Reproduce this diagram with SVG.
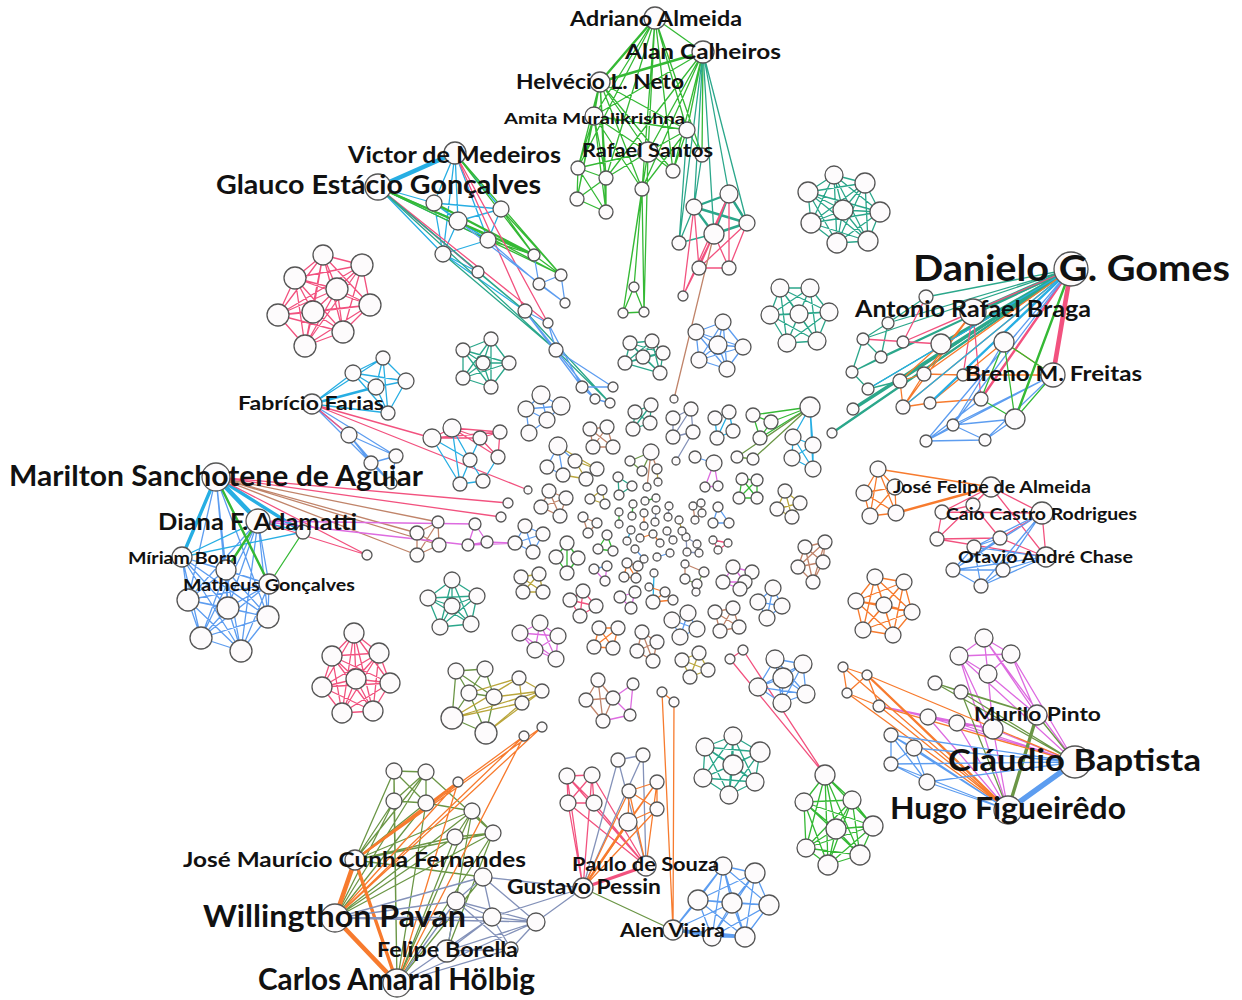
<svg xmlns="http://www.w3.org/2000/svg" width="1242" height="1000" viewBox="0 0 1242 1000">
<style>
.n{fill:#fdfbfc;stroke:#555;stroke-width:1.3}
.e{fill:none;stroke-width:1.3;stroke-linecap:round;stroke-linejoin:round}
.g{stroke:#35b935}
.t{stroke:#2ba78b}
.p{stroke:#f2527f}
.b{stroke:#5d9df0}
.c{stroke:#27aee3}
.o{stroke:#f77b2e}
.w{stroke:#c0846a}
.m{stroke:#dd6be0}
.y{stroke:#baa63c}
.v{stroke:#6b9646}
.s{stroke:#8492b9}
.k2{stroke-width:2.4}
.k3{stroke-width:3.4}
.k4{stroke-width:4.6}
.lab{font-family:Lato,"Liberation Sans",sans-serif;font-weight:700;fill:#111}
</style>
<rect width="1242" height="1000" fill="#fff"/>
<g id="connectors">
<!-- top group around Adriano Almeida -->
<path class="e g" d="M655 18 703 52M655 18 594 116M655 18 687 130M655 18 648 152M655 18 702 155M655 18 673 171M655 18 578 168M655 18 606 178M655 18 642 189M703 52 594 116M703 52 687 130M703 52 648 152M703 52 702 155M703 52 673 171M703 52 642 189M703 52 606 178M600 82 594 116M600 82 687 130M600 82 648 152M600 82 578 168M600 82 606 178M600 82 577 199M600 82 606 212M600 82 642 189M600 82 673 171M594 116 648 152M594 116 578 168M594 116 606 178M594 116 577 199M594 116 606 212M594 116 687 130M594 116 642 189M687 130 648 152M687 130 673 171M687 130 702 155M687 130 642 189M648 152 673 171M648 152 642 189M648 152 606 178M648 152 578 168M578 168 606 178 606 212 577 199 578 168M578 168 606 212M606 178 577 199M642 189 634 287M642 189 623 313M642 189 644 312M634 287 623 313 644 312 634 287M648 152 623 313M648 152 644 312"/>
<path class="e g k2" d="M655 18 600 82 703 52"/>
<path class="e t" d="M703 52 694 207M703 52 729 194M703 52 747 223M703 52 714 234M703 52 679 243M687 130 679 243M702 155 694 207"/>
<path class="e t k2" d="M694 207 729 194 747 223 714 234 694 207M729 194 714 234M694 207 747 223"/>
<path class="e t" d="M679 243 714 234M679 243 694 207"/>
<path class="e p" d="M729 194 699 268M729 194 729 268M714 234 699 268M714 234 729 268M694 207 699 268M694 207 683 296M747 223 729 268M747 223 699 268M699 268 729 268M714 234 683 296M729 194 683 296"/>
<path class="e w" d="M714 234 674 399"/>
<!-- upper right cliques -->
<path class="e t" d="M834 175 865 183 880 212 868 241 837 243 811 223 808 192ZM834 175 880 212 837 243 808 192 865 183 868 241 811 223ZM834 175 868 241 808 192 880 212 811 223 865 183 837 243ZM834 175 843 210 865 183M880 212 843 210 868 241M837 243 843 210 811 223M808 192 843 210"/>
<path class="e t" d="M780 288 810 288 829 312 817 341 787 343 770 315ZM780 288 829 312 787 343ZM810 288 817 341 770 315ZM780 288 817 341M810 288 787 343M829 312 770 315M780 288 799 314 810 288M829 312 799 314 817 341M787 343 799 314 770 315"/>
<path class="e b" d="M723 322 743 347 727 369 699 360 696 332ZM723 322 727 369 696 332 743 347 699 360ZM723 322 718 345 743 347M727 369 718 345 699 360M696 332 718 345"/>
<path class="e t" d="M630 343 652 341 663 353 660 373 625 363ZM630 343 663 353 625 363 652 341 660 373ZM630 343 643 357 652 341M663 353 643 357 660 373M625 363 643 357"/>
<!-- Glauco / Victor group -->
<path class="e c k4" d="M378 187 455 153"/>
<path class="e c" d="M455 153 434 203M455 153 458 221M455 153 488 240M455 153 443 254M455 153 501 209M378 187 434 203M378 187 458 221M378 187 488 240M378 187 443 254M434 203 458 221 488 240 443 254 434 203 488 240M458 221 443 254M434 203 501 209 458 221M443 254 478 272M488 240 501 209M378 187 478 272M443 254 525 311"/>
<path class="e g" d="M455 153 534 255M455 153 561 275M378 187 561 275M501 209 534 255 561 275 501 209M488 240 534 255M458 221 561 275"/>
<path class="e g k2" d="M378 187 534 255M434 203 534 255"/>
<path class="e p" d="M455 153 525 311M378 187 548 323M455 153 548 323M378 187 478 272"/>
<path class="e t" d="M378 187 525 311M378 187 556 350M478 272 525 311M443 254 556 350M525 311 610 403M556 350 610 403"/>
<path class="e b" d="M534 255 539 284 561 275 565 303 539 284M525 311 582 387M525 311 595 399M548 323 582 387M556 350 595 399M556 350 613 387M582 387 595 399 610 403M582 387 613 387M458 221 565 303M488 240 539 284M525 311 548 323 556 350 525 311"/>
<!-- left cliques -->
<path class="e p" d="M323 255 362 265 370 305 343 332 305 346 278 315 295 278ZM323 255 370 305 305 346 295 278 362 265 343 332 278 315ZM323 255 343 332 295 278 370 305 278 315 362 265 305 346ZM323 255 337 289 362 265M370 305 337 289 343 332M305 346 337 289 278 315M295 278 337 289 313 312M323 255 313 312 362 265M370 305 313 312 343 332M305 346 313 312 278 315M295 278 313 312"/>
<path class="e c" d="M312 404 383 358M312 404 353 373M312 404 388 413M383 358 353 373 406 381 383 358 376 387 353 373M406 381 376 387 388 413 406 381M353 373 388 413M383 358 388 413"/>
<path class="e c k2" d="M312 404 376 387"/>
<path class="e b" d="M312 404 349 435M312 404 396 456M312 404 371 463M312 404 391 483M349 435 396 456 371 463 349 435 391 483 371 463M396 456 391 483"/>
<path class="e p" d="M312 404 432 438M312 404 528 490M312 404 349 435"/>
<path class="e p" d="M432 438 452 428 480 438 500 432 498 457 480 438 432 438M452 428 500 432M452 428 498 457M432 438 500 432"/>
<path class="e c" d="M432 438 470 460 460 484 483 481 470 460 452 428 460 484 432 438M480 438 470 460M498 457 483 481"/>
<path class="e t" d="M463 350 491 339 509 363 491 387 463 378ZM463 350 509 363 463 378 491 339 491 387ZM463 350 483 363 491 339M509 363 483 363 491 387M463 378 483 363"/>
<!-- Marilton group -->
<path class="e b" d="M216 477 226 570M216 477 188 600M216 477 228 608M216 477 268 617M182 557 226 570 269 584 268 617 241 651 201 638 188 600ZM182 557 269 584 241 651 188 600 226 570 268 617 201 638ZM182 557 268 617 188 600 269 584 201 638 226 570 241 651ZM182 557 228 608 226 570M269 584 228 608 268 617M241 651 228 608 201 638M188 600 228 608M258 521 269 584M258 521 188 600M258 521 228 608M258 521 268 617M258 521 201 638M258 521 241 651"/>
<path class="e c k4" d="M216 477 258 521"/>
<path class="e c k3" d="M216 477 182 557M216 477 303 532"/>
<path class="e c" d="M258 521 303 532M182 557 303 532M258 521 182 557"/>
<path class="e g k2" d="M216 477 269 584M258 521 226 570"/>
<path class="e g" d="M303 532 269 584"/>
<path class="e w" d="M216 477 438 522M216 477 417 533M216 477 439 545M216 477 417 555M438 522 417 533 439 545 417 555 417 533M438 522 439 545M438 522 417 555"/>
<path class="e p" d="M216 477 508 503M216 477 501 517M216 477 367 555M258 521 367 555"/>
<path class="e m" d="M258 521 475 524M258 521 468 545M475 524 468 545 487 542 475 524M487 542 516 543M468 545 516 543"/>
<path class="e t" d="M452 580 477 596 471 624 440 627 428 598ZM452 580 471 624 428 598 477 596 440 627ZM452 580 452 606 477 596M471 624 452 606 440 627M428 598 452 606"/>
<path class="e p" d="M354 633 379 653 390 683 373 711 342 713 322 687 332 656ZM354 633 390 683 342 713 332 656 379 653 373 711 322 687ZM354 633 373 711 332 656 390 683 322 687 379 653 342 713ZM354 633 356 679 379 653M390 683 356 679 373 711M342 713 356 679 322 687M332 656 356 679"/>
<path class="e v" d="M456 671 485 669 494 697 486 733 452 718 456 671 469 693 485 669M469 693 494 697M469 693 452 718M469 693 486 733M456 671 494 697M485 669 452 718"/>
<path class="e y" d="M519 678 542 691 522 703 519 678M452 718 519 678M452 718 542 691M452 718 522 703M486 733 542 691M486 733 522 703M469 693 519 678M494 697 542 691"/>
<!-- Willingthon group -->
<path class="e v" d="M394 771 426 772 426 803 394 801 394 771 426 803M426 772 394 801M355 860 394 771M355 860 426 772M355 860 394 801M355 860 426 803M335 918 394 801M335 918 426 803M335 918 426 772M397 983 394 771M397 983 394 801M397 983 426 803M472 811 493 833 455 837 472 811M355 860 472 811M355 860 493 833M355 860 455 837M335 918 472 811M335 918 493 833M335 918 455 837M397 983 472 811M397 983 493 833M397 983 455 837M447 951 472 811M447 951 493 833M426 803 472 811M426 772 493 833M355 860 483 877M397 983 483 877"/>
<path class="e o k4" d="M355 860 335 918 397 983"/>
<path class="e o k3" d="M355 860 397 983"/>
<path class="e o" d="M355 860 524 736M355 860 542 727M335 918 524 736M335 918 542 727M335 918 458 782M397 983 458 782M397 983 524 736"/>
<path class="e o k2" d="M355 860 458 782"/>
<path class="e s" d="M335 918 483 877M335 918 456 901M335 918 492 917M335 918 536 922M397 983 456 901M397 983 492 917M397 983 536 922M397 983 511 949M483 877 456 901 492 917 483 877 536 922 492 917 511 949 536 922M456 901 447 951 492 917M456 901 511 949M447 951 536 922M483 877 583 888M492 917 583 888M536 922 583 888M456 901 536 922M447 951 511 949"/>
<!-- Paulo / Gustavo / Alen group -->
<path class="e p" d="M567 776 592 775 594 803 568 803 567 776 594 803M592 775 568 803M567 776 583 888 568 803M592 775 583 888M567 776 646 866 568 803M592 775 646 866 594 803"/>
<path class="e p k3" d="M583 888 646 866"/>
<path class="e s" d="M618 760 643 755M618 760 583 888M643 755 583 888M618 760 646 866M643 755 646 866"/>
<path class="e o" d="M629 791 657 782 657 809 628 822 629 791 657 809M657 782 628 822M583 888 629 791M583 888 657 782M583 888 657 809M646 866 657 782M646 866 629 791"/>
<path class="e o k2" d="M583 888 628 822"/>
<path class="e v" d="M583 888 673 930"/>
<path class="e o" d="M673 930 662 692M673 930 674 702M662 692 674 702"/>
<path class="e b" d="M723 866 755 873 769 905 745 937 712 937 698 900ZM723 866 769 905 712 937ZM755 873 745 937 698 900ZM723 866 745 937M755 873 712 937M769 905 698 900M723 866 732 903 755 873M769 905 732 903 745 937M712 937 732 903 698 900M673 930 723 866M673 930 698 900M673 930 732 903M673 930 712 937"/>
<path class="e b k3" d="M673 930 745 937"/>
<path class="e t" d="M705 747 733 736 760 752 755 782 729 795 703 778ZM705 747 760 752 729 795ZM733 736 755 782 703 778ZM705 747 755 782M733 736 729 795M760 752 703 778M705 747 733 765 733 736M760 752 733 765 755 782M729 795 733 765 703 778"/>
<path class="e g" d="M825 775 852 800 873 826 860 855 828 865 806 848 804 802ZM825 775 873 826 828 865 804 802 852 800 860 855 806 848ZM825 775 860 855 804 802 873 826 806 848 852 800 828 865ZM825 775 836 829 852 800M873 826 836 829 860 855M828 865 836 829 806 848M804 802 836 829"/>
<path class="e p" d="M730 659 743 650M730 659 825 775M743 650 825 775"/>
<!-- Claudio / Hugo group -->
<path class="e m" d="M984 638 1011 654 988 674 959 656 984 638 988 674M1011 654 959 656M984 638 1037 715 1011 654M988 674 1037 715M959 656 993 729M988 674 993 729M1011 654 1075 762M984 638 1075 762M959 656 1075 762M928 717 957 723 993 729 928 717M928 717 1075 762M957 723 1075 762M993 729 1075 762M928 717 1008 810M957 723 1008 810M993 729 1008 810M1037 715 1008 810M879 706 993 729M879 706 928 717M959 656 1008 810"/>
<path class="e v" d="M935 683 961 692 1037 715 935 683M935 683 1075 762 961 692M1037 715 1075 762M961 692 1008 810"/>
<path class="e v k3" d="M1037 715 1008 810"/>
<path class="e o" d="M843 667 867 675 847 693 843 667M867 675 879 706 847 693M843 667 1008 810M847 693 1008 810M879 706 1008 810M867 675 1075 762M879 706 1075 762"/>
<path class="e o k2" d="M867 675 1008 810"/>
<path class="e b" d="M891 735 914 748 891 764 891 735 927 782 914 748M891 764 927 782M891 735 1008 810M914 748 1008 810M891 764 1008 810M927 782 1008 810M891 735 1075 762M914 748 1075 762M891 764 1075 762M927 782 1075 762"/>
<path class="e b" style="stroke-width:5.5" d="M1075 762 1008 810"/>
<!-- Jose Felipe group and neighbours -->
<path class="e o" d="M878 469 895 487 896 513 870 516 864 493ZM878 469 896 513 864 493 895 487 870 516ZM878 469 991 487"/>
<path class="e o k2" d="M896 513 991 487"/>
<path class="e p" d="M991 487 973 505M991 487 942 512M991 487 1042 513M991 487 1046 557M973 505 942 512 937 539 1000 538 973 505M1042 513 1046 557M942 512 1042 513M937 539 1046 557M1000 538 1046 557M991 487 937 539M1042 513 1000 538"/>
<path class="e b" d="M1042 513 974 547M1042 513 953 570M1042 513 1003 570M1042 513 981 586M1046 557 974 547M1046 557 953 570M1046 557 1003 570M1046 557 981 586M974 547 953 570 981 586 1003 570 974 547 981 586M953 570 1003 570M1000 538 974 547M1000 538 953 570"/>
<path class="e o" d="M875 577 904 582 912 612 893 635 863 630 856 601ZM875 577 912 612 863 630ZM904 582 893 635 856 601ZM875 577 893 635M904 582 863 630M912 612 856 601M875 577 884 605 904 582M912 612 884 605 893 635M863 630 884 605 856 601"/>
<path class="e w" d="M805 547 825 542 823 562 813 582 798 567ZM805 547 823 562 798 567 825 542 813 582Z"/>
<!-- Danielo group -->
<path class="e t" d="M1071 269 926 297M1071 269 888 323M1071 269 863 339M1071 269 881 357M1071 269 852 372M1071 269 868 389M1071 269 900 381M926 297 888 323 863 339 881 357 852 372 868 389 900 381M888 323 881 357M863 339 852 372"/>
<path class="e t k3" d="M1071 269 973 312M1071 269 941 344M1071 269 853 409"/>
<path class="e t k2" d="M1071 269 832 433"/>
<path class="e p" d="M926 297 903 342 973 312M1071 269 903 342M973 312 963 375M973 312 981 399M941 344 863 339"/>
<path class="e p k4" d="M1071 269 1053 375"/>
<path class="e p k2" d="M1071 269 981 399"/>
<path class="e o" d="M1071 269 924 374M1071 269 903 407M973 312 924 374M973 312 903 407M924 374 963 375 1053 375M900 381 924 374 903 407 930 403 981 399M1004 342 930 403M1004 342 1053 375M941 344 900 381M900 381 903 407"/>
<path class="e c k2" d="M1071 269 930 403"/>
<path class="e c" d="M1071 269 868 389M1071 269 903 407"/>
<path class="e b" d="M1071 269 953 425M1004 342 953 425M1053 375 953 425M1053 375 926 441M981 399 926 441M953 425 926 441 985 440 953 425M1015 419 985 440M1053 375 985 440M1015 419 953 425M1071 269 926 441"/>
<path class="e g k2" d="M1071 269 1015 419"/>
<path class="e g" d="M1004 342 1015 419M981 399 1015 419M1004 342 981 399M1004 342 1053 375M1053 375 1015 419"/>
<!-- small central components -->
<path class="e b" d="M541 395 561 406 547 420 529 433 526 409ZM541 395 547 420 526 409 561 406"/>
<path class="e t" d="M635 412 651 405 650 423 633 429ZM635 412 650 423M651 405 633 429"/>
<path class="e s" d="M673 418 691 409 693 432 673 437ZM691 409 673 437M693 432 676 461"/>
<path class="e c" d="M715 418 729 412 733 431 717 438ZM729 412 717 438"/>
<path class="e g" d="M810 407 753 415M810 407 771 422M810 407 760 438M753 415 771 422 760 438 753 415"/>
<path class="e v" d="M810 407 737 457M810 407 753 459M737 457 753 459"/>
<path class="e c" d="M810 407 793 437M810 407 813 445M810 407 813 469M793 437 813 445 813 469 792 458 793 437 813 469M813 445 792 458"/>
<path class="e w" d="M590 429 607 427 613 447 593 447ZM590 429 613 447M607 427 593 447"/>
<path class="e b" d="M558 446 547 467 563 475 558 446M558 446 575 461"/>
<path class="e y" d="M558 446 597 469M575 461 586 479 597 469 575 461M563 475 586 479"/>
<path class="e v" d="M651 452 630 461 642 471 651 452"/>
<path class="e w" d="M651 452 647 487M651 452 657 469"/>
<path class="e y" d="M657 469 658 482"/>
<path class="e b" d="M695 457 714 463"/>
<path class="e m" d="M714 463 705 487 718 486 714 463"/>
<path class="e g" d="M742 479 757 480 757 498 739 498ZM742 479 757 498M757 480 739 498"/>
<path class="e y" d="M785 491 800 503 792 517 777 509ZM785 491 792 517M800 503 777 509"/>
<path class="e t" d="M618 477 632 486 619 495Z"/>
<path class="e y" d="M602 490 605 504 590 499Z"/>
<path class="e w" d="M549 491 566 498 560 516 541 507ZM549 491 560 516M566 498 541 507"/>
<path class="e g" d="M619 512 619 524M633 504 632 516M645 501 656 498"/>
<path class="e o" d="M644 513 644 526M640 538 653 534 660 543"/>
<path class="e s" d="M656 510 655 522M669 506 668 517M667 531 673 540M686 537 697 544 699 553 687 552Z"/>
<path class="e y" d="M679 520 682 531"/>
<path class="e c" d="M631 530 627 541"/>
<path class="e b" d="M635 549 644 559M657 557 670 553M718 507 713 523 729 523Z"/>
<path class="e w" d="M693 506 701 503 702 513 695 520ZM583 517 597 523 588 533Z"/>
<path class="e g" d="M607 535 598 549 613 551Z"/>
<path class="e p" d="M713 540 728 543 718 550Z"/>
<path class="e g" d="M567 543 578 558 567 573 556 557ZM567 543 567 573"/>
<path class="e b" d="M525 526 543 534 533 552 515 543ZM525 526 533 552M543 534 515 543"/>
<path class="e m" d="M594 569 605 581 607 566"/>
<path class="e b" d="M594 569 607 566"/>
<path class="e o" d="M627 563 638 566 636 578 624 577ZM627 563 636 578"/>
<path class="e c" d="M654 573 653 602"/>
<path class="e o" d="M653 602 665 592 673 600ZM649 587 665 592"/>
<path class="e w" d="M685 564 704 572M685 564 685 579"/>
<path class="e v" d="M704 572 697 584 685 579M697 584 696 592"/>
<path class="e m" d="M733 567 752 572 745 582 740 589 723 582ZM733 567 745 582M723 582 745 582"/>
<path class="e b" d="M773 588 782 606 767 618 758 602ZM773 588 767 618M782 606 758 602"/>
<path class="e y" d="M521 577 539 574 543 592 523 592ZM521 577 543 592M539 574 523 592"/>
<path class="e p" d="M583 591 596 606 580 616 570 600ZM583 591 580 616M596 606 570 600"/>
<path class="e m" d="M620 597 635 592 631 608Z"/>
<path class="e b" d="M688 613 697 629 680 637 672 620ZM688 613 680 637M697 629 672 620"/>
<path class="e w" d="M733 608 739 627 720 631 715 612ZM733 608 720 631M739 627 715 612"/>
<path class="e m" d="M540 623 558 636 556 659 535 650 520 633ZM540 623 556 659 520 633 558 636 535 650Z"/>
<path class="e o" d="M599 628 618 628 613 648 594 647ZM599 628 613 648M618 628 594 647"/>
<path class="e w" d="M642 632 657 642 653 661 637 651ZM642 632 653 661M657 642 637 651"/>
<path class="e y" d="M699 653 708 670 690 677 682 660ZM699 653 690 677M708 670 682 660"/>
<path class="e b" d="M775 659 803 664 806 694 782 703 758 687ZM775 659 806 694 758 687 803 664 782 703ZM775 659 783 678 803 664M806 694 783 678 782 703M758 687 783 678"/>
<path class="e w" d="M598 680 613 698 603 721 586 700ZM598 680 603 721M613 698 586 700"/>
<path class="e m" d="M613 698 633 684 630 715 613 698M603 721 630 715"/>
</g>
<g id="nodes">
<g id="group-adriano">
<g id="node-adriano-almeida"><circle class="n" cx="655" cy="18" r="11"/></g>
<g id="node-alan-calheiros"><circle class="n" cx="703" cy="52" r="11"/></g>
<g id="node-helvecio-l-neto"><circle class="n" cx="600" cy="82" r="10"/></g>
<g id="node-amita-muralikrishna"><circle class="n" cx="594" cy="116" r="9"/></g>
<g id="node-rafael-santos"><circle class="n" cx="648" cy="152" r="10"/></g>
<circle class="n" cx="687" cy="130" r="8"/><circle class="n" cx="702" cy="155" r="7"/><circle class="n" cx="673" cy="171" r="7"/><circle class="n" cx="578" cy="168" r="7"/><circle class="n" cx="606" cy="178" r="7"/><circle class="n" cx="642" cy="189" r="7"/><circle class="n" cx="577" cy="199" r="7"/><circle class="n" cx="606" cy="212" r="7"/><circle class="n" cx="634" cy="287" r="5"/><circle class="n" cx="623" cy="313" r="5"/><circle class="n" cx="644" cy="312" r="5"/>
</g>
<g id="group-upper-mixed">
<circle class="n" cx="694" cy="207" r="8"/><circle class="n" cx="729" cy="194" r="9"/><circle class="n" cx="747" cy="223" r="8"/><circle class="n" cx="714" cy="234" r="10"/><circle class="n" cx="679" cy="243" r="7"/><circle class="n" cx="699" cy="268" r="7"/><circle class="n" cx="729" cy="268" r="7"/><circle class="n" cx="683" cy="296" r="5"/><circle class="n" cx="674" cy="399" r="4"/>
</g>
<g id="group-teal-top">
<circle class="n" cx="834" cy="175" r="9"/><circle class="n" cx="865" cy="183" r="10"/><circle class="n" cx="808" cy="192" r="10"/><circle class="n" cx="843" cy="210" r="10"/><circle class="n" cx="880" cy="212" r="10"/><circle class="n" cx="811" cy="223" r="10"/><circle class="n" cx="837" cy="243" r="10"/><circle class="n" cx="868" cy="241" r="10"/>
</g>
<g id="group-teal-mid">
<circle class="n" cx="780" cy="288" r="9"/><circle class="n" cx="810" cy="288" r="9"/><circle class="n" cx="770" cy="315" r="9"/><circle class="n" cx="799" cy="314" r="9"/><circle class="n" cx="829" cy="312" r="9"/><circle class="n" cx="787" cy="343" r="9"/><circle class="n" cx="817" cy="341" r="9"/>
</g>
<g id="group-blue-mid">
<circle class="n" cx="723" cy="322" r="8"/><circle class="n" cx="696" cy="332" r="8"/><circle class="n" cx="718" cy="345" r="9"/><circle class="n" cx="743" cy="347" r="8"/><circle class="n" cx="699" cy="360" r="8"/><circle class="n" cx="727" cy="369" r="8"/>
</g>
<g id="group-teal-small">
<circle class="n" cx="630" cy="343" r="7"/><circle class="n" cx="652" cy="341" r="7"/><circle class="n" cx="663" cy="353" r="7"/><circle class="n" cx="660" cy="373" r="7"/><circle class="n" cx="625" cy="363" r="7"/><circle class="n" cx="643" cy="357" r="7"/>
</g>
<g id="group-glauco">
<g id="node-victor-de-medeiros"><circle class="n" cx="455" cy="153" r="11"/></g>
<g id="node-glauco-estacio-goncalves"><circle class="n" cx="378" cy="187" r="13"/></g>
<circle class="n" cx="434" cy="203" r="8"/><circle class="n" cx="458" cy="221" r="9"/><circle class="n" cx="501" cy="209" r="8"/><circle class="n" cx="488" cy="240" r="8"/><circle class="n" cx="443" cy="254" r="8"/><circle class="n" cx="478" cy="272" r="6"/><circle class="n" cx="534" cy="255" r="6"/><circle class="n" cx="561" cy="275" r="6"/><circle class="n" cx="539" cy="284" r="6"/><circle class="n" cx="565" cy="303" r="5"/><circle class="n" cx="525" cy="311" r="7"/><circle class="n" cx="548" cy="323" r="5"/><circle class="n" cx="556" cy="350" r="7"/><circle class="n" cx="582" cy="387" r="6"/><circle class="n" cx="613" cy="387" r="5"/><circle class="n" cx="595" cy="399" r="5"/><circle class="n" cx="610" cy="403" r="5"/>
</g>
<g id="group-pink-left">
<circle class="n" cx="323" cy="255" r="10"/><circle class="n" cx="362" cy="265" r="11"/><circle class="n" cx="370" cy="305" r="11"/><circle class="n" cx="343" cy="332" r="11"/><circle class="n" cx="305" cy="346" r="11"/><circle class="n" cx="278" cy="315" r="11"/><circle class="n" cx="295" cy="278" r="11"/><circle class="n" cx="337" cy="289" r="11"/><circle class="n" cx="313" cy="312" r="11"/>
</g>
<g id="group-fabricio">
<g id="node-fabricio-farias"><circle class="n" cx="312" cy="404" r="10"/></g>
<circle class="n" cx="383" cy="358" r="7"/><circle class="n" cx="353" cy="373" r="8"/><circle class="n" cx="406" cy="381" r="8"/><circle class="n" cx="376" cy="387" r="8"/><circle class="n" cx="388" cy="413" r="7"/><circle class="n" cx="349" cy="435" r="8"/><circle class="n" cx="396" cy="456" r="7"/><circle class="n" cx="371" cy="463" r="7"/><circle class="n" cx="391" cy="483" r="6"/><circle class="n" cx="528" cy="490" r="4"/>
</g>
<g id="group-pink-cyan">
<circle class="n" cx="432" cy="438" r="9"/><circle class="n" cx="452" cy="428" r="9"/><circle class="n" cx="480" cy="438" r="7"/><circle class="n" cx="500" cy="432" r="7"/><circle class="n" cx="498" cy="457" r="7"/><circle class="n" cx="470" cy="460" r="7"/><circle class="n" cx="460" cy="484" r="7"/><circle class="n" cx="483" cy="481" r="7"/>
</g>
<g id="group-teal-left">
<circle class="n" cx="463" cy="350" r="7"/><circle class="n" cx="491" cy="339" r="7"/><circle class="n" cx="509" cy="363" r="7"/><circle class="n" cx="491" cy="387" r="7"/><circle class="n" cx="463" cy="378" r="7"/><circle class="n" cx="483" cy="363" r="7"/>
</g>
<g id="group-marilton">
<g id="node-marilton-sanchotene-de-aguiar"><circle class="n" cx="216" cy="477" r="14"/></g>
<g id="node-diana-f-adamatti"><circle class="n" cx="258" cy="521" r="12"/></g>
<g id="node-miriam-born"><circle class="n" cx="182" cy="557" r="10"/></g>
<g id="node-matheus-goncalves"><circle class="n" cx="269" cy="584" r="10"/></g>
<circle class="n" cx="226" cy="570" r="10"/><circle class="n" cx="188" cy="600" r="11"/><circle class="n" cx="228" cy="608" r="11"/><circle class="n" cx="268" cy="617" r="11"/><circle class="n" cx="201" cy="638" r="11"/><circle class="n" cx="241" cy="651" r="11"/><circle class="n" cx="303" cy="532" r="7"/><circle class="n" cx="367" cy="555" r="5"/><circle class="n" cx="508" cy="503" r="5"/><circle class="n" cx="501" cy="517" r="5"/>
<circle class="n" cx="438" cy="522" r="6"/><circle class="n" cx="417" cy="533" r="7"/><circle class="n" cx="439" cy="545" r="7"/><circle class="n" cx="417" cy="555" r="7"/>
<circle class="n" cx="475" cy="524" r="6"/><circle class="n" cx="468" cy="545" r="6"/><circle class="n" cx="487" cy="542" r="6"/><circle class="n" cx="516" cy="543" r="6"/>
</g>
<g id="group-teal-lower-left">
<circle class="n" cx="452" cy="580" r="8"/><circle class="n" cx="477" cy="596" r="8"/><circle class="n" cx="471" cy="624" r="8"/><circle class="n" cx="440" cy="627" r="8"/><circle class="n" cx="428" cy="598" r="8"/><circle class="n" cx="452" cy="606" r="8"/>
</g>
<g id="group-pink-lower-left">
<circle class="n" cx="354" cy="633" r="10"/><circle class="n" cx="379" cy="653" r="10"/><circle class="n" cx="390" cy="683" r="10"/><circle class="n" cx="373" cy="711" r="10"/><circle class="n" cx="342" cy="713" r="10"/><circle class="n" cx="322" cy="687" r="10"/><circle class="n" cx="332" cy="656" r="10"/><circle class="n" cx="356" cy="679" r="10"/>
</g>
<g id="group-olive">
<circle class="n" cx="456" cy="671" r="8"/><circle class="n" cx="485" cy="669" r="8"/><circle class="n" cx="469" cy="693" r="8"/><circle class="n" cx="494" cy="697" r="8"/><circle class="n" cx="452" cy="718" r="11"/><circle class="n" cx="486" cy="733" r="11"/><circle class="n" cx="519" cy="678" r="7"/><circle class="n" cx="542" cy="691" r="7"/><circle class="n" cx="522" cy="703" r="7"/>
</g>
<g id="group-willingthon">
<g id="node-jose-mauricio-cunha-fernandes"><circle class="n" cx="355" cy="860" r="10"/></g>
<g id="node-willingthon-pavan"><circle class="n" cx="335" cy="918" r="14"/></g>
<g id="node-felipe-borella"><circle class="n" cx="447" cy="951" r="11"/></g>
<g id="node-carlos-amaral-holbig"><circle class="n" cx="397" cy="983" r="14"/></g>
<circle class="n" cx="394" cy="771" r="8"/><circle class="n" cx="426" cy="772" r="8"/><circle class="n" cx="394" cy="801" r="8"/><circle class="n" cx="426" cy="803" r="8"/><circle class="n" cx="458" cy="782" r="5"/><circle class="n" cx="472" cy="811" r="8"/><circle class="n" cx="493" cy="833" r="8"/><circle class="n" cx="455" cy="837" r="8"/><circle class="n" cx="483" cy="877" r="9"/><circle class="n" cx="456" cy="901" r="9"/><circle class="n" cx="492" cy="917" r="9"/><circle class="n" cx="536" cy="922" r="9"/><circle class="n" cx="511" cy="949" r="7"/><circle class="n" cx="524" cy="736" r="5"/><circle class="n" cx="542" cy="727" r="5"/>
</g>
<g id="group-paulo">
<g id="node-paulo-de-souza"><circle class="n" cx="646" cy="866" r="10"/></g>
<g id="node-gustavo-pessin"><circle class="n" cx="583" cy="888" r="10"/></g>
<g id="node-alen-vieira"><circle class="n" cx="673" cy="930" r="10"/></g>
<circle class="n" cx="567" cy="776" r="8"/><circle class="n" cx="592" cy="775" r="8"/><circle class="n" cx="568" cy="803" r="8"/><circle class="n" cx="594" cy="803" r="8"/><circle class="n" cx="618" cy="760" r="7"/><circle class="n" cx="643" cy="755" r="7"/><circle class="n" cx="629" cy="791" r="7"/><circle class="n" cx="657" cy="782" r="7"/><circle class="n" cx="657" cy="809" r="7"/><circle class="n" cx="628" cy="822" r="9"/><circle class="n" cx="662" cy="692" r="5"/><circle class="n" cx="674" cy="702" r="5"/>
<circle class="n" cx="723" cy="866" r="9"/><circle class="n" cx="755" cy="873" r="10"/><circle class="n" cx="698" cy="900" r="10"/><circle class="n" cx="732" cy="903" r="10"/><circle class="n" cx="769" cy="905" r="10"/><circle class="n" cx="712" cy="937" r="9"/><circle class="n" cx="745" cy="937" r="10"/>
</g>
<g id="group-teal-bottom">
<circle class="n" cx="705" cy="747" r="9"/><circle class="n" cx="733" cy="736" r="9"/><circle class="n" cx="760" cy="752" r="10"/><circle class="n" cx="755" cy="782" r="9"/><circle class="n" cx="729" cy="795" r="9"/><circle class="n" cx="703" cy="778" r="9"/><circle class="n" cx="733" cy="765" r="10"/>
</g>
<g id="group-green-bottom">
<circle class="n" cx="825" cy="775" r="10"/><circle class="n" cx="852" cy="800" r="9"/><circle class="n" cx="873" cy="826" r="10"/><circle class="n" cx="860" cy="855" r="10"/><circle class="n" cx="828" cy="865" r="10"/><circle class="n" cx="806" cy="848" r="9"/><circle class="n" cx="804" cy="802" r="9"/><circle class="n" cx="836" cy="829" r="10"/>
</g>
<g id="group-claudio">
<g id="node-claudio-baptista"><circle class="n" cx="1075" cy="762" r="16"/></g>
<g id="node-hugo-figueiredo"><circle class="n" cx="1008" cy="810" r="14"/></g>
<g id="node-murilo-pinto"><circle class="n" cx="1037" cy="715" r="10"/></g>
<circle class="n" cx="984" cy="638" r="9"/><circle class="n" cx="1011" cy="654" r="9"/><circle class="n" cx="959" cy="656" r="9"/><circle class="n" cx="988" cy="674" r="9"/><circle class="n" cx="935" cy="683" r="7"/><circle class="n" cx="961" cy="692" r="7"/><circle class="n" cx="928" cy="717" r="8"/><circle class="n" cx="957" cy="723" r="8"/><circle class="n" cx="993" cy="729" r="10"/><circle class="n" cx="843" cy="667" r="5"/><circle class="n" cx="867" cy="675" r="5"/><circle class="n" cx="847" cy="693" r="5"/><circle class="n" cx="879" cy="706" r="6"/><circle class="n" cx="891" cy="735" r="7"/><circle class="n" cx="914" cy="748" r="8"/><circle class="n" cx="891" cy="764" r="7"/><circle class="n" cx="927" cy="782" r="8"/>
</g>
<g id="group-jose-felipe">
<g id="node-jose-felipe-de-almeida"><circle class="n" cx="991" cy="487" r="10"/></g>
<g id="node-caio-castro-rodrigues"><circle class="n" cx="1042" cy="513" r="11"/></g>
<g id="node-otavio-andre-chase"><circle class="n" cx="1046" cy="557" r="10"/></g>
<circle class="n" cx="878" cy="469" r="8"/><circle class="n" cx="864" cy="493" r="8"/><circle class="n" cx="895" cy="487" r="8"/><circle class="n" cx="870" cy="516" r="8"/><circle class="n" cx="896" cy="513" r="8"/><circle class="n" cx="973" cy="505" r="7"/><circle class="n" cx="942" cy="512" r="7"/><circle class="n" cx="937" cy="539" r="7"/><circle class="n" cx="1000" cy="538" r="7"/><circle class="n" cx="974" cy="547" r="7"/><circle class="n" cx="953" cy="570" r="7"/><circle class="n" cx="1003" cy="570" r="7"/><circle class="n" cx="981" cy="586" r="7"/>
</g>
<g id="group-orange-right">
<circle class="n" cx="875" cy="577" r="8"/><circle class="n" cx="904" cy="582" r="8"/><circle class="n" cx="912" cy="612" r="8"/><circle class="n" cx="893" cy="635" r="8"/><circle class="n" cx="863" cy="630" r="8"/><circle class="n" cx="856" cy="601" r="8"/><circle class="n" cx="884" cy="605" r="8"/>
</g>
<g id="group-brown-right">
<circle class="n" cx="805" cy="547" r="7"/><circle class="n" cx="825" cy="542" r="7"/><circle class="n" cx="823" cy="562" r="7"/><circle class="n" cx="813" cy="582" r="7"/><circle class="n" cx="798" cy="567" r="7"/>
</g>
<g id="group-danielo">
<g id="node-danielo-g-gomes"><circle class="n" cx="1071" cy="269" r="17"/></g>
<g id="node-antonio-rafael-braga"><circle class="n" cx="973" cy="312" r="13"/></g>
<g id="node-breno-m-freitas"><circle class="n" cx="1053" cy="375" r="12"/></g>
<circle class="n" cx="941" cy="344" r="10"/><circle class="n" cx="1004" cy="342" r="10"/><circle class="n" cx="926" cy="297" r="7"/><circle class="n" cx="888" cy="323" r="6"/><circle class="n" cx="903" cy="342" r="6"/><circle class="n" cx="863" cy="339" r="6"/><circle class="n" cx="881" cy="357" r="6"/><circle class="n" cx="852" cy="372" r="6"/><circle class="n" cx="868" cy="389" r="6"/><circle class="n" cx="900" cy="381" r="7"/><circle class="n" cx="924" cy="374" r="7"/><circle class="n" cx="963" cy="375" r="6"/><circle class="n" cx="981" cy="399" r="7"/><circle class="n" cx="930" cy="403" r="6"/><circle class="n" cx="903" cy="407" r="7"/><circle class="n" cx="853" cy="409" r="6"/><circle class="n" cx="1015" cy="419" r="10"/><circle class="n" cx="953" cy="425" r="6"/><circle class="n" cx="832" cy="433" r="5"/><circle class="n" cx="926" cy="441" r="6"/><circle class="n" cx="985" cy="440" r="6"/>
</g>
<g id="group-centre">
<circle class="n" cx="541" cy="395" r="9"/><circle class="n" cx="526" cy="409" r="8"/><circle class="n" cx="561" cy="406" r="9"/><circle class="n" cx="547" cy="420" r="8"/><circle class="n" cx="529" cy="433" r="8"/>
<circle class="n" cx="635" cy="412" r="7"/><circle class="n" cx="651" cy="405" r="7"/><circle class="n" cx="650" cy="423" r="7"/><circle class="n" cx="633" cy="429" r="7"/>
<circle class="n" cx="673" cy="418" r="7"/><circle class="n" cx="691" cy="409" r="7"/><circle class="n" cx="673" cy="437" r="7"/><circle class="n" cx="693" cy="432" r="7"/><circle class="n" cx="676" cy="461" r="4"/>
<circle class="n" cx="715" cy="418" r="7"/><circle class="n" cx="729" cy="412" r="7"/><circle class="n" cx="733" cy="431" r="7"/><circle class="n" cx="717" cy="438" r="7"/>
<circle class="n" cx="810" cy="407" r="10"/><circle class="n" cx="753" cy="415" r="7"/><circle class="n" cx="771" cy="422" r="7"/><circle class="n" cx="760" cy="438" r="7"/><circle class="n" cx="737" cy="457" r="6"/><circle class="n" cx="753" cy="459" r="6"/><circle class="n" cx="793" cy="437" r="8"/><circle class="n" cx="813" cy="445" r="8"/><circle class="n" cx="792" cy="458" r="8"/><circle class="n" cx="813" cy="469" r="8"/>
<circle class="n" cx="590" cy="429" r="7"/><circle class="n" cx="607" cy="427" r="7"/><circle class="n" cx="613" cy="447" r="7"/><circle class="n" cx="593" cy="447" r="7"/>
<circle class="n" cx="558" cy="446" r="9"/><circle class="n" cx="547" cy="467" r="7"/><circle class="n" cx="563" cy="475" r="7"/><circle class="n" cx="575" cy="461" r="7"/><circle class="n" cx="586" cy="479" r="7"/><circle class="n" cx="597" cy="469" r="7"/>
<circle class="n" cx="651" cy="452" r="8"/><circle class="n" cx="630" cy="461" r="5"/><circle class="n" cx="642" cy="471" r="5"/><circle class="n" cx="657" cy="469" r="5"/><circle class="n" cx="647" cy="487" r="4"/><circle class="n" cx="658" cy="482" r="4"/>
<circle class="n" cx="695" cy="457" r="6"/><circle class="n" cx="714" cy="463" r="8"/><circle class="n" cx="705" cy="487" r="5"/><circle class="n" cx="718" cy="486" r="5"/>
<circle class="n" cx="742" cy="479" r="6"/><circle class="n" cx="757" cy="480" r="6"/><circle class="n" cx="757" cy="498" r="6"/><circle class="n" cx="739" cy="498" r="6"/>
<circle class="n" cx="785" cy="491" r="7"/><circle class="n" cx="800" cy="503" r="7"/><circle class="n" cx="792" cy="517" r="7"/><circle class="n" cx="777" cy="509" r="7"/>
<circle class="n" cx="618" cy="477" r="5"/><circle class="n" cx="632" cy="486" r="5"/><circle class="n" cx="619" cy="495" r="5"/>
<circle class="n" cx="602" cy="490" r="5"/><circle class="n" cx="605" cy="504" r="5"/><circle class="n" cx="590" cy="499" r="5"/>
<circle class="n" cx="549" cy="491" r="7"/><circle class="n" cx="566" cy="498" r="7"/><circle class="n" cx="560" cy="516" r="7"/><circle class="n" cx="541" cy="507" r="7"/>
<circle class="n" cx="619" cy="512" r="4"/><circle class="n" cx="619" cy="524" r="4"/><circle class="n" cx="633" cy="504" r="4"/><circle class="n" cx="632" cy="516" r="4"/><circle class="n" cx="645" cy="501" r="4"/><circle class="n" cx="656" cy="498" r="4"/><circle class="n" cx="644" cy="513" r="4"/><circle class="n" cx="644" cy="526" r="4"/><circle class="n" cx="640" cy="538" r="4"/><circle class="n" cx="653" cy="534" r="4"/><circle class="n" cx="660" cy="543" r="4"/><circle class="n" cx="656" cy="510" r="4"/><circle class="n" cx="655" cy="522" r="4"/><circle class="n" cx="669" cy="506" r="4"/><circle class="n" cx="668" cy="517" r="4"/><circle class="n" cx="667" cy="531" r="4"/><circle class="n" cx="673" cy="540" r="4"/><circle class="n" cx="686" cy="537" r="4"/><circle class="n" cx="697" cy="544" r="4"/><circle class="n" cx="699" cy="553" r="4"/><circle class="n" cx="687" cy="552" r="4"/><circle class="n" cx="679" cy="520" r="4"/><circle class="n" cx="682" cy="531" r="4"/><circle class="n" cx="631" cy="530" r="4"/><circle class="n" cx="627" cy="541" r="4"/><circle class="n" cx="635" cy="549" r="4"/><circle class="n" cx="644" cy="559" r="4"/><circle class="n" cx="657" cy="557" r="4"/><circle class="n" cx="670" cy="553" r="4"/><circle class="n" cx="718" cy="507" r="5"/><circle class="n" cx="713" cy="523" r="5"/><circle class="n" cx="729" cy="523" r="5"/><circle class="n" cx="693" cy="506" r="4"/><circle class="n" cx="701" cy="503" r="4"/><circle class="n" cx="702" cy="513" r="4"/><circle class="n" cx="695" cy="520" r="4"/><circle class="n" cx="583" cy="517" r="5"/><circle class="n" cx="597" cy="523" r="5"/><circle class="n" cx="588" cy="533" r="5"/><circle class="n" cx="607" cy="535" r="5"/><circle class="n" cx="598" cy="549" r="5"/><circle class="n" cx="613" cy="551" r="5"/><circle class="n" cx="713" cy="540" r="4"/><circle class="n" cx="728" cy="543" r="4"/><circle class="n" cx="718" cy="550" r="4"/>
<circle class="n" cx="567" cy="543" r="7"/><circle class="n" cx="578" cy="558" r="7"/><circle class="n" cx="567" cy="573" r="7"/><circle class="n" cx="556" cy="557" r="7"/>
<circle class="n" cx="525" cy="526" r="7"/><circle class="n" cx="543" cy="534" r="7"/><circle class="n" cx="533" cy="552" r="7"/><circle class="n" cx="515" cy="543" r="7"/>
<circle class="n" cx="594" cy="569" r="5"/><circle class="n" cx="607" cy="566" r="5"/><circle class="n" cx="605" cy="581" r="5"/>
<circle class="n" cx="627" cy="563" r="5"/><circle class="n" cx="638" cy="566" r="5"/><circle class="n" cx="636" cy="578" r="5"/><circle class="n" cx="624" cy="577" r="5"/>
<circle class="n" cx="654" cy="573" r="4"/><circle class="n" cx="653" cy="602" r="7"/><circle class="n" cx="665" cy="592" r="5"/><circle class="n" cx="673" cy="600" r="5"/><circle class="n" cx="649" cy="587" r="4"/>
<circle class="n" cx="685" cy="564" r="4"/><circle class="n" cx="704" cy="572" r="5"/><circle class="n" cx="697" cy="584" r="5"/><circle class="n" cx="685" cy="579" r="5"/><circle class="n" cx="696" cy="592" r="4"/>
<circle class="n" cx="733" cy="567" r="7"/><circle class="n" cx="752" cy="572" r="7"/><circle class="n" cx="745" cy="582" r="7"/><circle class="n" cx="740" cy="589" r="7"/><circle class="n" cx="723" cy="582" r="7"/>
<circle class="n" cx="773" cy="588" r="8"/><circle class="n" cx="782" cy="606" r="8"/><circle class="n" cx="767" cy="618" r="8"/><circle class="n" cx="758" cy="602" r="8"/>
<circle class="n" cx="521" cy="577" r="7"/><circle class="n" cx="539" cy="574" r="7"/><circle class="n" cx="543" cy="592" r="7"/><circle class="n" cx="523" cy="592" r="7"/>
<circle class="n" cx="583" cy="591" r="7"/><circle class="n" cx="596" cy="606" r="7"/><circle class="n" cx="580" cy="616" r="7"/><circle class="n" cx="570" cy="600" r="7"/>
<circle class="n" cx="620" cy="597" r="6"/><circle class="n" cx="635" cy="592" r="6"/><circle class="n" cx="631" cy="608" r="6"/>
<circle class="n" cx="688" cy="613" r="8"/><circle class="n" cx="697" cy="629" r="8"/><circle class="n" cx="680" cy="637" r="8"/><circle class="n" cx="672" cy="620" r="8"/>
<circle class="n" cx="733" cy="608" r="7"/><circle class="n" cx="739" cy="627" r="7"/><circle class="n" cx="720" cy="631" r="7"/><circle class="n" cx="715" cy="612" r="7"/>
<circle class="n" cx="540" cy="623" r="8"/><circle class="n" cx="558" cy="636" r="8"/><circle class="n" cx="556" cy="659" r="8"/><circle class="n" cx="535" cy="650" r="8"/><circle class="n" cx="520" cy="633" r="8"/>
<circle class="n" cx="599" cy="628" r="7"/><circle class="n" cx="618" cy="628" r="7"/><circle class="n" cx="613" cy="648" r="7"/><circle class="n" cx="594" cy="647" r="7"/>
<circle class="n" cx="642" cy="632" r="7"/><circle class="n" cx="657" cy="642" r="7"/><circle class="n" cx="653" cy="661" r="7"/><circle class="n" cx="637" cy="651" r="7"/>
<circle class="n" cx="699" cy="653" r="7"/><circle class="n" cx="708" cy="670" r="7"/><circle class="n" cx="690" cy="677" r="7"/><circle class="n" cx="682" cy="660" r="7"/>
<circle class="n" cx="730" cy="659" r="5"/><circle class="n" cx="743" cy="650" r="5"/>
<circle class="n" cx="775" cy="659" r="9"/><circle class="n" cx="803" cy="664" r="9"/><circle class="n" cx="806" cy="694" r="9"/><circle class="n" cx="782" cy="703" r="9"/><circle class="n" cx="758" cy="687" r="9"/><circle class="n" cx="783" cy="678" r="10"/>
<circle class="n" cx="598" cy="680" r="7"/><circle class="n" cx="613" cy="698" r="7"/><circle class="n" cx="603" cy="721" r="7"/><circle class="n" cx="586" cy="700" r="7"/><circle class="n" cx="633" cy="684" r="6"/><circle class="n" cx="630" cy="715" r="6"/>
</g>
</g>
<g id="labels" class="lab">
<text x="570" y="26" font-size="20" textLength="172" lengthAdjust="spacingAndGlyphs">Adriano Almeida</text>
<text x="625" y="59" font-size="20" textLength="156" lengthAdjust="spacingAndGlyphs">Alan Calheiros</text>
<text x="516" y="89" font-size="20" textLength="168" lengthAdjust="spacingAndGlyphs">Helvécio L. Neto</text>
<text x="504" y="124" font-size="16" textLength="181" lengthAdjust="spacingAndGlyphs">Amita Muralikrishna</text>
<text x="582" y="157" font-size="18" textLength="131" lengthAdjust="spacingAndGlyphs">Rafael Santos</text>
<text x="348" y="163" font-size="23" textLength="213" lengthAdjust="spacingAndGlyphs">Victor de Medeiros</text>
<text x="216" y="194" font-size="26" textLength="325" lengthAdjust="spacingAndGlyphs">Glauco Estácio Gonçalves</text>
<text x="913" y="281" font-size="37" textLength="317" lengthAdjust="spacingAndGlyphs">Danielo G. Gomes</text>
<text x="855" y="317" font-size="23" textLength="236" lengthAdjust="spacingAndGlyphs">Antonio Rafael Braga</text>
<text x="965" y="381" font-size="20" textLength="177" lengthAdjust="spacingAndGlyphs">Breno M. Freitas</text>
<text x="238" y="410" font-size="19" textLength="146" lengthAdjust="spacingAndGlyphs">Fabrício Farias</text>
<text x="9" y="486" font-size="28" textLength="414" lengthAdjust="spacingAndGlyphs">Marilton Sanchotene de Aguiar</text>
<text x="158" y="530" font-size="23" textLength="199" lengthAdjust="spacingAndGlyphs">Diana F. Adamatti</text>
<text x="128" y="564" font-size="17" textLength="109" lengthAdjust="spacingAndGlyphs">Míriam Born</text>
<text x="183" y="591" font-size="17" textLength="172" lengthAdjust="spacingAndGlyphs">Matheus Gonçalves</text>
<text x="893" y="493" font-size="17" textLength="198" lengthAdjust="spacingAndGlyphs">José Felipe de Almeida</text>
<text x="946" y="520" font-size="17" textLength="191" lengthAdjust="spacingAndGlyphs">Caio Castro Rodrigues</text>
<text x="958" y="563" font-size="17" textLength="175" lengthAdjust="spacingAndGlyphs">Otavio André Chase</text>
<text x="974" y="721" font-size="19" textLength="127" lengthAdjust="spacingAndGlyphs">Murilo Pinto</text>
<text x="948" y="771" font-size="31" textLength="253" lengthAdjust="spacingAndGlyphs">Cláudio Baptista</text>
<text x="890" y="819" font-size="30" textLength="236" lengthAdjust="spacingAndGlyphs">Hugo Figueirêdo</text>
<text x="183" y="867" font-size="21" textLength="343" lengthAdjust="spacingAndGlyphs">José Maurício Cunha Fernandes</text>
<text x="203" y="927" font-size="30" textLength="263" lengthAdjust="spacingAndGlyphs">Willingthon Pavan</text>
<text x="377" y="957" font-size="20" textLength="141" lengthAdjust="spacingAndGlyphs">Felipe Borella</text>
<text x="258" y="990" font-size="30" textLength="277" lengthAdjust="spacingAndGlyphs">Carlos Amaral Hölbig</text>
<text x="572" y="871" font-size="19" textLength="147" lengthAdjust="spacingAndGlyphs">Paulo de Souza</text>
<text x="507" y="894" font-size="20" textLength="154" lengthAdjust="spacingAndGlyphs">Gustavo Pessin</text>
<text x="620" y="937" font-size="19" textLength="105" lengthAdjust="spacingAndGlyphs">Alen Vieira</text>
</g>
</svg>
